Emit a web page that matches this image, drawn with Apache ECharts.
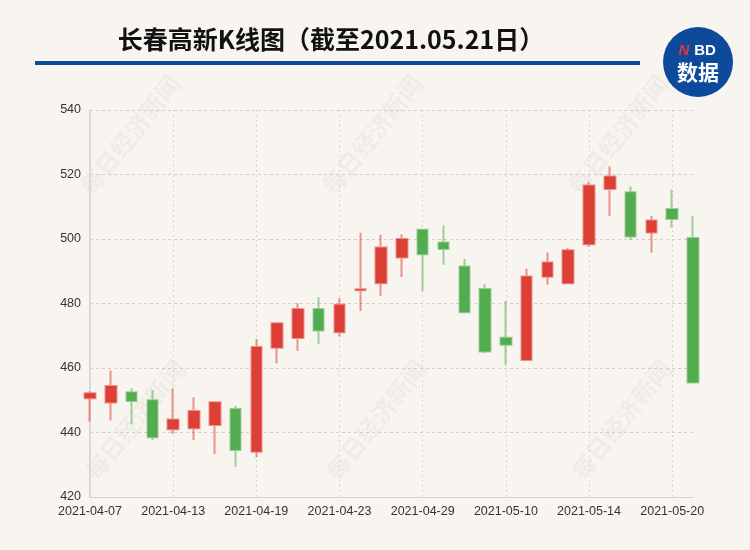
<!DOCTYPE html>
<html>
<head>
<meta charset="utf-8">
<script src="https://cdn.jsdelivr.net/npm/echarts@6/dist/echarts.min.js"></script>
<style>
html,body{margin:0;padding:0;background:#f8f5f0;}
#chart{width:750px;height:550px;}
</style>
</head>
<body>
<div id="chart"></div>
<script>
const dates = ['2021-04-07','2021-04-08','2021-04-09','2021-04-12','2021-04-13','2021-04-14','2021-04-15','2021-04-16','2021-04-19','2021-04-20','2021-04-21','2021-04-22','2021-04-23','2021-04-26','2021-04-27','2021-04-28','2021-04-29','2021-04-30','2021-05-06','2021-05-07','2021-05-10','2021-05-11','2021-05-12','2021-05-13','2021-05-14','2021-05-17','2021-05-18','2021-05-19','2021-05-20','2021-05-21'];
const opens  = [450.6,449.3,452.5,450.0,441.0,441.3,442.3,447.3,434.0,466.3,469.3,478.3,471.1,484.1,486.3,494.3,502.9,498.9,491.5,484.5,469.4,462.5,488.3,486.3,498.4,515.5,514.5,502.0,509.3,500.3];
const closes = [452.2,454.4,449.8,438.5,444.0,446.7,449.4,434.6,466.5,473.9,478.3,471.6,479.6,484.4,497.4,500.0,495.3,496.9,477.3,465.1,467.2,488.4,492.7,496.5,516.6,519.4,500.8,505.7,506.2,455.5];
const lows   = [443.4,443.7,442.5,437.7,439.5,437.7,433.3,429.4,432.3,461.5,465.3,467.4,469.8,477.7,482.4,488.2,483.9,492.0,477.0,464.6,461.0,462.4,485.8,486.2,497.5,507.2,499.6,495.7,503.6,455.4];
const highs  = [452.8,459.2,453.7,453.2,453.7,450.9,449.6,448.3,469.0,474.0,480.1,481.9,481.7,501.9,501.3,501.5,503.0,504.2,493.8,486.0,480.8,490.8,495.8,497.3,517.7,522.5,516.3,507.2,515.3,507.2];
const yTicks = [420,440,460,480,500,520,540];
const titleText = '长春高新K线图（截至2021.05.21日）';
const watermark = '每日经济新闻';

const kData = dates.map((d,i)=>[opens[i],closes[i],lows[i],highs[i]]);

const wmPos = [[130,135],[372,135],[618,135],[135,420],[376,420],[621,420]];
const graphics = wmPos.map(p=>({
  type:'text', x:p[0], y:p[1], rotation:0.9, z:-10, silent:true,
  style:{text:watermark, fill:'rgba(120,100,80,0.065)', font:'bold 24px "Noto Sans CJK SC"', align:'center', verticalAlign:'middle'}
}));
graphics.push(
  {type:'text', x:331, y:39, style:{text:titleText, fill:'#111', font:'bold 25px "Noto Sans CJK SC"', align:'center', verticalAlign:'middle'}},
  {type:'rect', shape:{x:35,y:61,width:605,height:4}, style:{fill:'#0d4a9b'}},
  {type:'circle', shape:{cx:698,cy:62,r:35}, style:{fill:'#0d4a9b'}},
  {type:'text', x:684, y:51, style:{text:'N', fill:'#e8333a', font:'italic 900 15px "Liberation Sans"', align:'center', verticalAlign:'middle'}},
  {type:'text', x:705, y:51, style:{text:'BD', fill:'#fff', font:'bold 15px "Liberation Sans"', align:'center', verticalAlign:'middle'}},
  {type:'text', x:698, y:72, style:{text:'数据', fill:'#fff', font:'bold 21px "Noto Sans CJK SC"', align:'center', verticalAlign:'middle'}}
);

const chart = echarts.init(document.getElementById('chart'), null, {renderer:'canvas'});
chart.setOption({
  backgroundColor:'#f8f5f0',
  animation:false,
  graphic:graphics,
  grid:{left:90, right:57, top:110, bottom:53},
  xAxis:{
    type:'category', data:dates, boundaryGap:false,
    axisLine:{lineStyle:{color:'#d6d3cf'}},
    axisTick:{show:false},
    axisLabel:{interval:3, color:'#333', fontSize:12.5, fontFamily:'Liberation Sans', margin:8},
    splitLine:{show:true, interval:3, lineStyle:{color:'#d9d6d2', type:[2,3]}}
  },
  yAxis:{
    type:'value', min:yTicks[0], max:yTicks[yTicks.length-1], interval:20,
    axisLine:{show:true, lineStyle:{color:'#dcd9d5', width:2}},
    axisTick:{show:false},
    axisLabel:{color:'#333', fontSize:12.5, fontFamily:'Liberation Sans', margin:9},
    splitLine:{lineStyle:{color:'#d0cdc9', type:[3,3]}}
  },
  series:[{
    type:'candlestick', data:kData, barWidth:11,
    itemStyle:{
      color:'#dd3f37', color0:'#52ad50',
      borderColor:'rgba(221,63,55,0.55)', borderColor0:'rgba(82,173,80,0.55)',
      borderWidth:2
    }
  }]
});
</script>
</body>
</html>
